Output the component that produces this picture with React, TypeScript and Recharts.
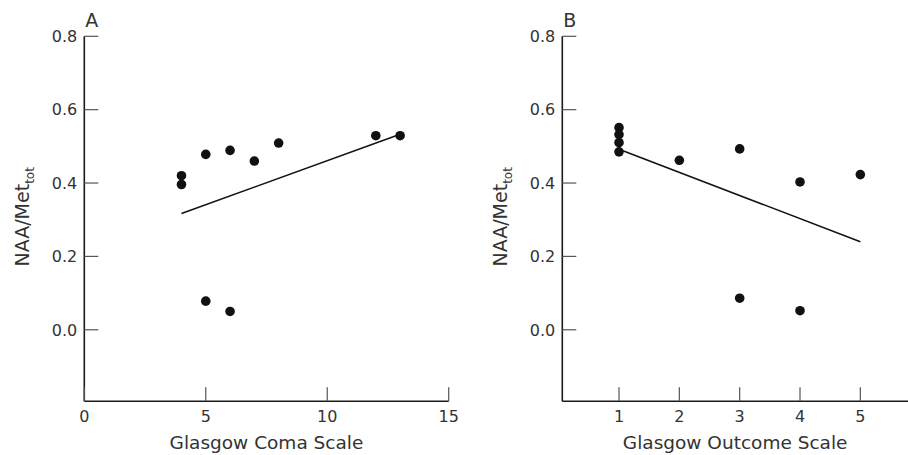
import { ScatterChart, Scatter, XAxis, YAxis, ReferenceLine, Label } from "recharts";

// panel A: Glasgow Coma Scale vs NAA/Met_tot
const gcsScores = [4, 4, 5, 6, 7, 8, 12, 13, 5, 6];
const gcsRatios = [0.42, 0.396, 0.478, 0.489, 0.46, 0.509, 0.529, 0.529, 0.078, 0.05];
const gcsFitX = [4, 13];
const gcsFitY = [0.317, 0.533];
const gcsTicks = [0, 5, 10, 15];

// panel B: Glasgow Outcome Scale vs NAA/Met_tot
const gosScores = [1, 1, 1, 1, 2, 3, 3, 4, 4, 5];
const gosRatios = [0.551, 0.532, 0.51, 0.485, 0.462, 0.493, 0.086, 0.403, 0.052, 0.423];
const gosFitX = [1, 5];
const gosFitY = [0.492, 0.24];
const gosTicks = [1, 2, 3, 4, 5];

const ratioTicks = [0, 0.2, 0.4, 0.6, 0.8];

const FONT = "'DejaVu Sans', sans-serif";
const INK = "#1a1a1a";
const TEXT = "#333";

const toPoints = (xs: number[], ys: number[]) => xs.map((x, i) => ({ x, y: ys[i] }));

function XTick({ x, y, payload }: any) {
  const axisY = y - 9;
  return (
    <g>
      <line x1={x} y1={axisY} x2={x} y2={axisY - 14} stroke="#555" strokeWidth={1.2} />
      <text x={x} y={y} dy="0.71em" textAnchor="middle" fontSize={16} fontFamily={FONT} fill={TEXT}>
        {payload.value}
      </text>
    </g>
  );
}

function YTick({ x, y, payload }: any) {
  const axisX = x + 7;
  return (
    <g>
      <line x1={axisX} y1={y} x2={axisX + 14} y2={y} stroke="#555" strokeWidth={1.2} />
      <text x={x} y={y} dy="0.36em" textAnchor="end" fontSize={16} fontFamily={FONT} fill={TEXT}>
        {Number(payload.value).toFixed(1)}
      </text>
    </g>
  );
}

function YTitle({ viewBox }: any) {
  const cx = viewBox.x + viewBox.width - 55;
  const cy = viewBox.y + viewBox.height / 2 - 2;
  return (
    <text
      transform={`translate(${cx},${cy}) rotate(-90)`}
      textAnchor="middle"
      fontSize={19}
      fontFamily={FONT}
      fill={TEXT}
    >
      NAA/Met
      <tspan fontSize={12} dy={5}>
        tot
      </tspan>
    </text>
  );
}

function xTitle(text: string) {
  return ({ viewBox }: any) => (
    <text
      x={viewBox.x + viewBox.width / 2}
      y={viewBox.y + 48}
      textAnchor="middle"
      fontSize={18.5}
      fontFamily={FONT}
      fill={TEXT}
    >
      {text}
    </text>
  );
}

const dot = (p: any) => <circle cx={p.cx} cy={p.cy} r={4.8} fill="#111" />;

interface PanelProps {
  letter: string;
  title: string;
  xs: number[];
  ys: number[];
  fitX: number[];
  fitY: number[];
  ticks: number[];
  domain: [number, number];
  width: number;
  left: number;
  axisWidth: number;
  rightMargin: number;
}

function Panel({ letter, title, xs, ys, fitX, fitY, ticks, domain, width, left, axisWidth, rightMargin }: PanelProps) {
  return (
    <div style={{ position: "absolute", left, top: 0, width, height: 455 }}>
      <ScatterChart
        width={width}
        height={455}
        margin={{ top: 36.3, right: rightMargin, bottom: 0, left: 0 }}
      >
        <XAxis
          type="number"
          dataKey="x"
          domain={domain}
          ticks={ticks}
          interval={0}
          height={53.7}
          tickSize={0}
          tickMargin={9}
          tickLine={false}
          tick={<XTick />}
          axisLine={{ stroke: INK, strokeWidth: 1.6 }}
          allowDataOverflow
        >
          <Label content={xTitle(title)} />
        </XAxis>
        <YAxis
          type="number"
          dataKey="y"
          domain={[-0.195, 0.8]}
          ticks={ratioTicks}
          interval={0}
          width={axisWidth}
          tickSize={0}
          tickMargin={7}
          tickLine={false}
          tick={<YTick />}
          axisLine={{ stroke: INK, strokeWidth: 1.6 }}
          allowDataOverflow
        >
          <Label content={<YTitle />} />
        </YAxis>
        <ReferenceLine
          segment={[
            { x: fitX[0], y: fitY[0] },
            { x: fitX[1], y: fitY[1] },
          ]}
          stroke="#111"
          strokeWidth={1.5}
          ifOverflow="visible"
        />
        <Scatter data={toPoints(xs, ys)} shape={dot} isAnimationActive={false} />
      </ScatterChart>
      <div
        style={{
          position: "absolute",
          left: axisWidth + 1,
          top: 9,
          fontFamily: FONT,
          fontSize: 19,
          color: TEXT,
          lineHeight: "22px",
        }}
      >
        {letter}
      </div>
    </div>
  );
}

export default function App() {
  return (
    <div
      style={{
        position: "fixed",
        left: 0,
        top: 0,
        width: 908,
        height: 455,
        overflow: "hidden",
        background: "#fff",
      }}
    >
      <Panel
        letter="A"
        title="Glasgow Coma Scale"
        xs={gcsScores}
        ys={gcsRatios}
        fitX={gcsFitX}
        fitY={gcsFitY}
        ticks={gcsTicks}
        domain={[0, 15]}
        width={460}
        left={0}
        axisWidth={84.3}
        rightMargin={11.3}
      />
      <Panel
        letter="B"
        title="Glasgow Outcome Scale"
        xs={gosScores}
        ys={gosRatios}
        fitX={gosFitX}
        fitY={gosFitY}
        ticks={gosTicks}
        domain={[0.06, 5.79]}
        width={448}
        left={460}
        axisWidth={102.3}
        rightMargin={0}
      />
    </div>
  );
}
